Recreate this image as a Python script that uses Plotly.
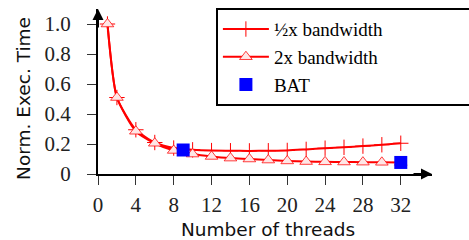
import plotly.graph_objects as go

threads = [1, 2, 4, 6, 8, 10, 12, 14, 16, 18, 20, 22, 24, 26, 28, 30, 32]
half_bw = [1.0, 0.51, 0.295, 0.21, 0.173, 0.161, 0.156, 0.155, 0.154, 0.155, 0.157, 0.164, 0.172, 0.178, 0.186, 0.195, 0.205]
double_bw = [1.0, 0.51, 0.285, 0.205, 0.157, 0.133, 0.117, 0.106, 0.100, 0.093, 0.087, 0.083, 0.081, 0.080, 0.079, 0.078, 0.077]
bat_x = [9, 32]
bat_y = [0.16, 0.077]

x_ticks = [0, 4, 8, 12, 16, 20, 24, 28, 32]
y_ticks = [0, 0.2, 0.4, 0.6, 0.8, 1.0]
y_tick_text = ["0", "0.2", "0.4", "0.6", "0.8", "1.0"]

RED = "#ff0000"
SERIF = "Liberation Serif"
SANS = "DejaVu Sans"
PAD = "\u00a0" * 30

fig = go.Figure()
fig.add_trace(go.Scatter(
    x=threads, y=half_bw, name="½x bandwidth" + PAD, mode="lines+markers",
    line=dict(color=RED, width=2, shape="spline", smoothing=0.6),
    marker=dict(symbol="cross-thin", size=11, line=dict(color=RED, width=1)),
))
fig.add_trace(go.Scatter(
    x=threads, y=double_bw, name="2x bandwidth", mode="lines+markers",
    line=dict(color=RED, width=2, shape="spline", smoothing=0.6),
    marker=dict(symbol="triangle-up", size=11, color="#ffe6e6",
                line=dict(color="rgba(255,0,0,0.75)", width=1)),
))
fig.add_trace(go.Scatter(
    x=bat_x, y=bat_y, name="BAT", mode="markers",
    marker=dict(symbol="square", size=13, color="#0000ff"),
))

XMAX = 35.3
YMAX = 1.1

fig.update_xaxes(
    range=[0, XMAX], tickvals=x_ticks, showline=True, linecolor="black", linewidth=2,
    ticks="outside", ticklen=9, tickwidth=1, tickcolor="#333", showgrid=False,
    zeroline=False, tickfont=dict(family=SERIF, size=21, color="#222"),
    ticklabelstandoff=2,
)
fig.update_yaxes(
    range=[0, YMAX], tickvals=y_ticks, ticktext=y_tick_text, showline=True,
    linecolor="black", linewidth=2, ticks="outside", ticklen=9, tickwidth=1,
    tickcolor="#333", showgrid=False, zeroline=False,
    tickfont=dict(family=SERIF, size=21, color="#222"), ticklabelstandoff=12,
)

fig.add_annotation(x=XMAX, y=0, ax=-20, ay=0, text="", showarrow=True,
                   arrowhead=2, arrowsize=1.1, arrowwidth=2, arrowcolor="black",
                   xref="x", yref="y")
fig.add_annotation(x=0, y=YMAX, ax=0, ay=20, text="", showarrow=True,
                   arrowhead=2, arrowsize=1.1, arrowwidth=2, arrowcolor="black",
                   xref="x", yref="y")

fig.add_annotation(text="Number of threads", xref="paper", yref="paper",
                   x=0.51, y=-0.335, xanchor="center", yanchor="middle",
                   showarrow=False, font=dict(family=SANS, size=18.5, color="#111"))
fig.add_annotation(text="Norm. Exec. Time", xref="paper", yref="paper",
                   x=-0.225, y=0.46, xanchor="center", yanchor="middle", textangle=-90,
                   showarrow=False, font=dict(family=SANS, size=18.5, color="#111"))

fig.update_layout(
    width=469, height=240,
    margin=dict(l=98, r=37, t=8.6, b=65.7, autoexpand=False),
    plot_bgcolor="white", paper_bgcolor="white",
    showlegend=True,
    legend=dict(x=0.353, y=1.005, xanchor="left", yanchor="top",
                bgcolor="white", bordercolor="black", borderwidth=2,
                font=dict(family=SERIF, size=19, color="black"),
                tracegroupgap=0, itemwidth=46),
)

fig.write_html("out.html", config={"displayModeBar": False},
               post_script="document.body.style.margin='0';document.body.style.padding='0';")
